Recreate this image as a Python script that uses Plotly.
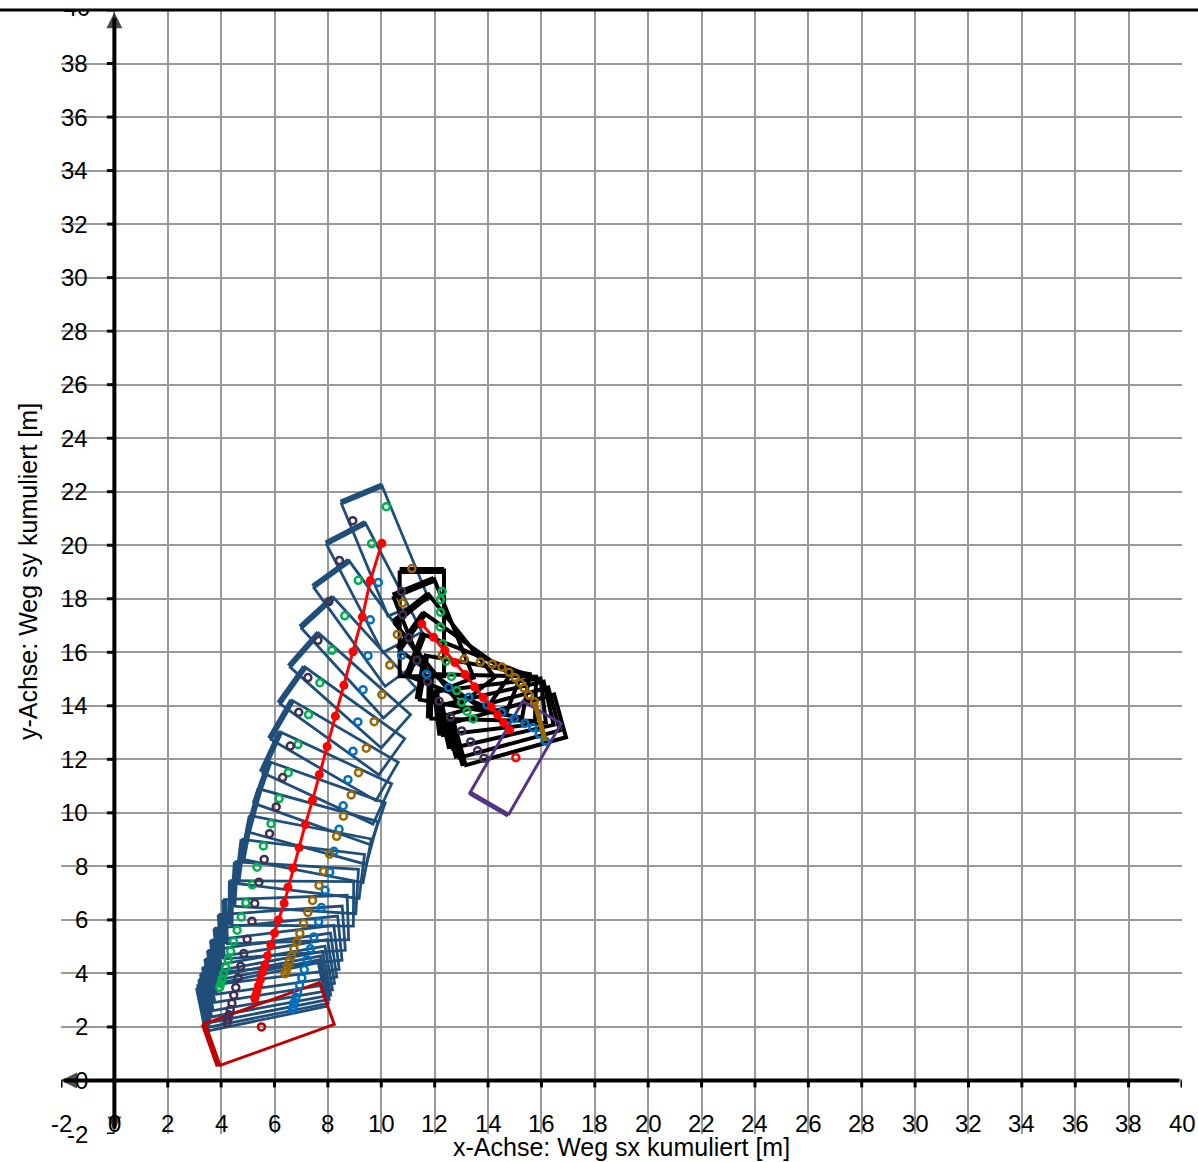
import math
import plotly.graph_objects as go

# ------------------------------------------------------------------ data
tick_values = [-2, 0, 2, 4, 6, 8, 10, 12, 14, 16, 18, 20, 22, 24, 26, 28, 30, 32, 34, 36, 38, 40]
tick_labels = ["-2", "0", "2", "4", "6", "8", "10", "12", "14", "16", "18", "20",
               "22", "24", "26", "28", "30", "32", "34", "36", "38", "40"]

x_title = "x-Achse: Weg sx kumuliert [m]"
y_title = "y-Achse: Weg sy kumuliert [m]"

# vehicle 1 (blue outlines): centre of gravity path and heading [deg]
v1_cg_x = [10.02, 9.59, 9.29, 8.94, 8.60, 8.28, 7.97, 7.68, 7.42, 7.15, 6.92, 6.69, 6.50,
           6.36, 6.15, 6.00, 5.86, 5.74, 5.64, 5.55, 5.47, 5.40, 5.34, 5.30, 5.26]
v1_cg_y = [20.07, 18.68, 17.32, 16.02, 14.77, 13.61, 12.48, 11.43, 10.46, 9.56, 8.70, 7.94, 7.22,
           6.62, 6.00, 5.51, 5.06, 4.66, 4.32, 4.04, 3.76, 3.54, 3.35, 3.19, 3.06]
v1_heading = [112.5, 117.5, 125.9, 132.5, 138.5, 144.4, 149.8, 155.1, 160.5, 164.7, 169.1, 173.0, 176.5,
              179.5, 182.0, 184.0, 185.7, 187.0, 188.1, 189.0, 189.8, 190.4, 190.9, 191.3, 191.7]
# vehicle 1 body geometry [m] relative to CG (u = longitudinal, v = lateral)
v1_front, v1_rear, v1_half_width = 2.0, -2.6, 0.83
v1_axle_front, v1_axle_rear, v1_half_track = 1.2, -1.3, 0.68
# vehicle 1 rest position (red)
v1_rest_x, v1_rest_y, v1_rest_heading = 5.51, 2.00, 199.7

# vehicle 2 (black outlines)
v2_cg_x = [11.52, 11.96, 12.38, 12.76, 13.14, 13.49, 13.82, 14.12, 14.36, 14.58, 14.81]
v2_cg_y = [17.06, 16.56, 16.08, 15.62, 15.17, 14.71, 14.31, 13.96, 13.66, 13.37, 13.10]
v2_heading = [90.0, 111.9, 128.7, 144.6, 158.6, 170.0, 178.6, 186.9, 192.9, 195.1, 195.5]
v2_front, v2_rear, v2_half_width = 2.0, -1.96, 0.83
v2_axle_front, v2_axle_rear, v2_half_track = 1.21, -1.18, 0.76
# vehicle 2 rest position (purple)
v2_rest_x, v2_rest_y, v2_rest_heading = 15.04, 12.06, 239.9

# ------------------------------------------------------------------ styles
C_V1 = "#1F4E79"
C_V2 = "#000000"
C_REST1 = "#C00000"
C_REST2 = "#553483"
C_GREEN = "#00B050"
C_PURPLE = "#403152"
C_BLUE = "#0070C0"
C_BROWN = "#996600"
C_RED = "#FF0000"
FONT = "Liberation Sans, Arial, sans-serif"


def body_point(cx, cy, hdg, s, t):
    a = math.radians(hdg)
    ux, uy = math.cos(a), math.sin(a)
    vx, vy = -math.sin(a), math.cos(a)
    return cx + s * ux + t * vx, cy + s * uy + t * vy


def outlines(xs, ys, hs, front, rear, hw):
    ox, oy, ex, ey = [], [], [], []
    for cx, cy, h in zip(xs, ys, hs):
        c = [body_point(cx, cy, h, front, hw), body_point(cx, cy, h, front, -hw),
             body_point(cx, cy, h, rear, -hw), body_point(cx, cy, h, rear, hw)]
        c.append(c[0])
        ox += [p[0] for p in c] + [None]
        oy += [p[1] for p in c] + [None]
        ex += [c[0][0], c[1][0], None]
        ey += [c[0][1], c[1][1], None]
    return ox, oy, ex, ey


def wheels(xs, ys, hs, s, t):
    pts = [body_point(cx, cy, h, s, t) for cx, cy, h in zip(xs, ys, hs)]
    return [p[0] for p in pts], [p[1] for p in pts]


fig = go.Figure()


def add_line(x, y, color, width, clip=True):
    fig.add_trace(go.Scatter(x=x, y=y, mode="lines", line=dict(color=color, width=width),
                             hoverinfo="skip", showlegend=False, cliponaxis=clip))


# ---- coordinate axes (thick black with arrows and ticks)
add_line([-1.9, 39.9], [0, 0], "black", 4, False)
add_line([0, 0], [-1.8, 39.7], "black", 4, False)
tx, ty = [], []
for t in tick_values:
    if t == 0:
        continue
    tx += [t, t, None]
    ty += [0, -0.26, None]
for t in tick_values:
    if t == 0:
        continue
    tx += [0, -0.28, None]
    ty += [t, t, None]
add_line(tx, ty, "black", 3, False)
fig.add_trace(go.Scatter(
    x=[0, 40.11, -2.0, 0], y=[39.92, 0, 0, -1.87], mode="markers",
    marker=dict(symbol=["arrow-up", "arrow-right", "arrow-left", "arrow-down"],
                size=[16, 16, 16, 14], color="black", line=dict(width=0)),
    hoverinfo="skip", showlegend=False, cliponaxis=False))

# ---- vehicle 1 outlines
ox, oy, ex, ey = outlines(v1_cg_x, v1_cg_y, v1_heading, v1_front, v1_rear, v1_half_width)
add_line(ox, oy, C_V1, 2.8)
add_line(ex, ey, C_V1, 6)
# ---- vehicle 2 outlines
ox, oy, ex, ey = outlines(v2_cg_x, v2_cg_y, v2_heading, v2_front, v2_rear, v2_half_width)
add_line(ox, oy, C_V2, 4)
add_line(ex, ey, C_V2, 7)
# ---- rest positions
ox, oy, ex, ey = outlines([v1_rest_x], [v1_rest_y], [v1_rest_heading], v1_front, v1_rear, v1_half_width)
add_line(ox, oy, C_REST1, 3)
add_line(ex, ey, C_REST1, 6)
ox, oy, ex, ey = outlines([v2_rest_x], [v2_rest_y], [v2_rest_heading], v2_front, v2_rear, v2_half_width)
add_line(ox, oy, C_REST2, 3)
add_line(ex, ey, C_REST2, 5)

# ---- wheel markers
for color, sgn_axle, sgn_side in [(C_GREEN, "f", -1), (C_PURPLE, "f", 1), (C_BLUE, "r", 1), (C_BROWN, "r", -1)]:
    xs, ys = [], []
    for (cxs, cys, hs, af, ar, ht) in [
            (v1_cg_x, v1_cg_y, v1_heading, v1_axle_front, v1_axle_rear, v1_half_track),
            (v2_cg_x, v2_cg_y, v2_heading, v2_axle_front, v2_axle_rear, v2_half_track)]:
        s = af if sgn_axle == "f" else ar
        wx, wy = wheels(cxs, cys, hs, s, sgn_side * ht)
        xs += wx
        ys += wy
    fig.add_trace(go.Scatter(x=xs, y=ys, mode="markers",
                             marker=dict(symbol="circle-open", size=7, color=color, line=dict(width=2.5, color=color)),
                             hoverinfo="skip", showlegend=False))

# brown rear axle bar of vehicle 2 final step
bx, by = body_point(v2_cg_x[-1], v2_cg_y[-1], v2_heading[-1], v2_axle_rear, -v2_half_track)
lx, ly = body_point(v2_cg_x[-1], v2_cg_y[-1], v2_heading[-1], v2_axle_rear, v2_half_track)
add_line([bx, lx], [by, ly], C_BROWN, 5)

# ---- CG paths (red)
for xs, ys in [(v1_cg_x, v1_cg_y), (v2_cg_x, v2_cg_y)]:
    fig.add_trace(go.Scatter(x=xs, y=ys, mode="lines+markers",
                             line=dict(color=C_RED, width=3),
                             marker=dict(size=9, color=C_RED),
                             hoverinfo="skip", showlegend=False))
fig.add_trace(go.Scatter(x=[v1_rest_x], y=[v1_rest_y], mode="markers",
                         marker=dict(symbol="circle-open", size=7, color=C_REST1, line=dict(width=2.5, color=C_REST1)),
                         hoverinfo="skip", showlegend=False))
fig.add_trace(go.Scatter(x=[v2_rest_x], y=[v2_rest_y], mode="markers",
                         marker=dict(symbol="circle-open", size=7, color=C_RED, line=dict(width=2.5, color=C_RED)),
                         hoverinfo="skip", showlegend=False))

# ---- tick labels
annotations = []
for v, lab in zip(tick_values, tick_labels):
    annotations.append(dict(x=v, y=-1.59, xref="x", yref="y", text=lab, showarrow=False,
                            xanchor="center", yanchor="middle", font=dict(family=FONT, size=24, color="black")))
    if v != 40:
        annotations.append(dict(x=-0.93, y=v, xref="x", yref="y", text=lab, showarrow=False,
                                xanchor="right", yanchor="middle", font=dict(family=FONT, size=24, color="black")))
# top label is clipped by the plot frame -> use a clipped text trace
fig.add_trace(go.Scatter(x=[-1.4], y=[40], mode="text", text=[tick_labels[-1]],
                         textposition="middle center", textfont=dict(family=FONT, size=24, color="black"),
                         hoverinfo="skip", showlegend=False, cliponaxis=True))

annotations.append(dict(x=0.5, y=-0.012, xref="paper", yref="paper", text=x_title, showarrow=False,
                        xanchor="center", yanchor="middle", font=dict(family=FONT, size=25, color="black")))
annotations.append(dict(x=-0.0294, y=0.5, xref="paper", yref="paper", text=y_title, showarrow=False,
                        textangle=-90, xanchor="center", yanchor="middle",
                        font=dict(family=FONT, size=25, color="black")))

# plot area spans 61..1182 px horizontally, 10..1134 px vertically
L, R, T, B = 61, 16, 10, 28
W, H = 1198, 1162
pw = W - L - R

fig.update_layout(
    width=W, height=H,
    margin=dict(l=L, r=R, t=T, b=B, pad=0),
    paper_bgcolor="white", plot_bgcolor="white",
    showlegend=False,
    annotations=annotations,
    xaxis=dict(range=[-2, 40], tick0=0, dtick=2, showgrid=True, gridcolor="#999999", gridwidth=2,
               zeroline=False, showticklabels=False, ticks="", showline=False, fixedrange=True),
    yaxis=dict(range=[-2, 40], tick0=0, dtick=2, showgrid=True, gridcolor="#999999", gridwidth=2,
               zeroline=False, showticklabels=False, ticks="", showline=False, fixedrange=True),
    shapes=[dict(type="line", xref="paper", yref="paper", x0=-L / pw, x1=1 + R / pw, y0=1, y1=1,
                 line=dict(color="black", width=3), layer="above")],
)

fig.write_html(
    "out.html",
    config={"displayModeBar": False},
    post_script="document.documentElement.style.overflow='hidden';"
                "document.body.style.margin='0';document.body.style.overflow='hidden';",
)
